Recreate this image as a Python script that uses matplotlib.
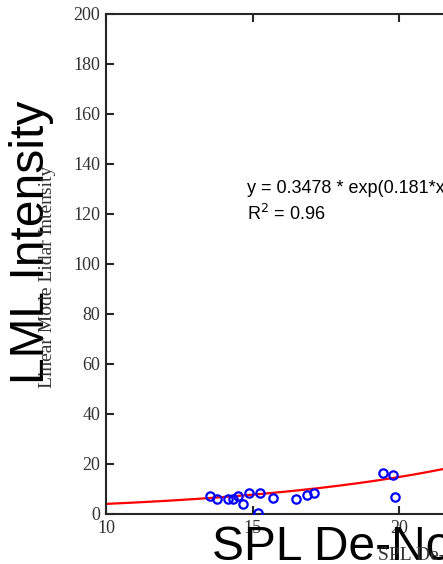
import numpy as np
import matplotlib
matplotlib.use('Agg')
import matplotlib.pyplot as plt

# SPL de-noised intensity vs linear mode lidar intensity
spl = [13.55, 13.77, 14.17, 14.32, 14.51, 14.66, 14.89, 15.19, 15.26,
       15.70, 16.47, 16.84, 17.10, 19.45, 19.80, 19.85]
lml = [7.3, 6.0, 6.1, 6.1, 7.2, 4.0, 8.3, 0.3, 8.3,
       6.5, 6.0, 7.8, 8.4, 16.3, 15.6, 6.9]

# exponential fit as drawn
fit_a = 1.1
fit_b = 0.13
eq_text = 'y = 0.3478 * exp(0.181*x)'
r2_text = 'R$^2$ = 0.96'

xticks = [10, 15, 20, 25, 30]
yticks = list(range(0, 201, 20))

W, H = 443, 564
fig = plt.figure(figsize=(W / 100, H / 100), dpi=100)

# axes runs off the right edge like the cropped original
ax = fig.add_axes([106 / W, 50 / H, 586.7 / W, 500 / H])

xs = np.linspace(10, 30, 200)
ax.plot(xs, fit_a * np.exp(fit_b * xs), color='red', lw=1.6, zorder=2)
ax.plot(spl, lml, 'o', mfc='none', mec='blue', mew=1.6, ms=6, zorder=3)

ax.set_xlim(10, 30)
ax.set_ylim(0, 200)
ax.set_xticks(xticks)
ax.set_yticks(yticks)
ax.tick_params(direction='in', length=6, width=1.5, colors='#262626',
               labelcolor='#333333', labelsize=13, top=True, right=True, pad=4)
for lab in ax.get_xticklabels() + ax.get_yticklabels():
    lab.set_family('Liberation Serif')
for s in ax.spines.values():
    s.set_linewidth(1.5)
    s.set_color('#262626')

ax.text(14.81, 128.4, eq_text, family='Liberation Sans', fontsize=13, va='baseline')
ax.text(14.81, 117.6, r2_text, family='Liberation Sans', fontsize=13, va='baseline')

# overlapping axis labels (big sans and small serif)
fig.text(32 / W, 1 - 242 / H, 'LML Intensity', family='Liberation Sans',
         fontsize=34.5, rotation=90, ha='center', va='center')
fig.text(48 / W, 1 - 277 / H, 'Linear Mode Lidar Intensity', family='Liberation Serif',
         fontsize=14, rotation=90, ha='center', va='center', color='#333333')
fig.text(212 / W, 1 - 560 / H, 'SPL De-Noised Intensity', family='Liberation Sans',
         fontsize=34.5, ha='left', va='baseline')
fig.text(378 / W, 1 - 560 / H, 'SPL De-Noised Intensity', family='Liberation Serif',
         fontsize=14, ha='left', va='baseline', color='#333333')

fig.savefig('out.png', dpi=100)
